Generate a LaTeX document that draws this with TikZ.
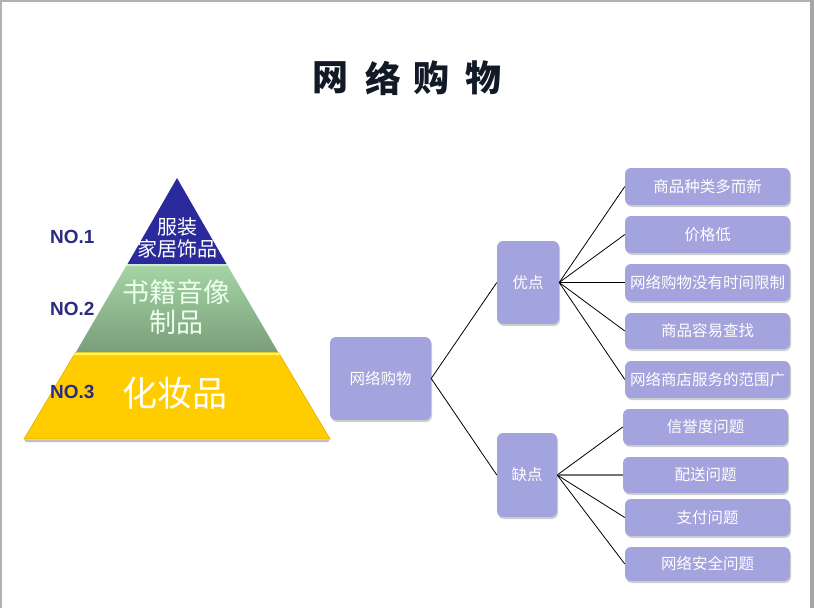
\documentclass[tikz,border=0pt]{standalone}
\usepackage{fontspec}
\setmainfont{Liberation Sans}
\newfontfamily\cjk{Noto Sans CJK SC}
\usetikzlibrary{shadows}
\definecolor{boxfill}{RGB}{163,163,221}
\definecolor{navy}{RGB}{43,43,128}
\definecolor{topblue}{RGB}{42,42,156}
\definecolor{titlecol}{RGB}{18,26,40}
\definecolor{yel}{RGB}{255,204,0}
\definecolor{yeledge}{RGB}{225,175,0}
\begin{document}
\begin{tikzpicture}[x=1pt,y=-1pt,
  box/.style={draw=none,fill=boxfill,rounded corners=6pt,inner sep=0pt,
    text=white,font=\cjk\fontsize{15.5}{17}\selectfont,align=center,
    drop shadow={shadow xshift=1pt,shadow yshift=-2pt,fill=black!30,opacity=0.6}},
  link/.style={draw=black,line width=0.8pt},
  nolabel/.style={text=navy,font=\bfseries\fontsize{19}{21}\selectfont,inner sep=0pt},
  pyrtext/.style={text=white,inner sep=0pt,align=center},
  titlechar/.style={text=titlecol,font=\cjk\bfseries\fontsize{36}{40}\selectfont,inner sep=0pt}]
\useasboundingbox (0,0) rectangle (814,608);
\fill[white] (0,0) rectangle (814,608);
% frame
\fill[black!30] (0,0) rectangle (814,1.5);
\fill[black!30] (0,0) rectangle (1.5,608);
\fill[black!35] (810,0) rectangle (814,608);
% title
\node[titlechar] (t1) at (330,78) {网};
\node[titlechar] (t2) at (383,78) {络};
\node[titlechar] (t3) at (431,78) {购};
\node[titlechar] (t4) at (483,78) {物};
% pyramid
\fill[topblue] (177,178) -- (226.5,264) -- (127.5,264) -- cycle;
\shade[top color={rgb,255:red,165;green,212;blue,165},bottom color={rgb,255:red,122;green,158;blue,122}]
  (126.5,265.5) -- (227.5,265.5) -- (278,352) -- (76,352) -- cycle;
\fill[white!70!green] (126.5,264.5) -- (227.5,264.5) -- (228.3,266) -- (125.7,266) -- cycle;
\fill[yel,draw=yeledge,line width=0.6pt] (75.5,352.5) -- (278.5,352.5) -- (330,439) -- (24,439) -- cycle;
\fill[yellow!60!white] (75.5,352.5) -- (278.5,352.5) -- (280,355) -- (74,355) -- cycle;
\fill[black!25] (24,439.5) -- (330,439.5) -- (328,442) -- (26,442) -- cycle;
\node[pyrtext,font=\cjk\fontsize{20}{22}\selectfont] (p1a) at (177,227) {服装};
\node[pyrtext,font=\cjk\fontsize{20}{22}\selectfont] (p1b) at (177,249) {家居饰品};
\node[pyrtext,text=white!92!green,font=\cjk\fontsize{27}{29}\selectfont] (p2a) at (176,292) {书籍音像};
\node[pyrtext,text=white!92!green,font=\cjk\fontsize{27}{29}\selectfont] (p2b) at (176,322) {制品};
\node[pyrtext,font=\cjk\fontsize{35}{38}\selectfont] (p3) at (175,393) {化妆品};
\node[nolabel,anchor=west] (n1) at (50,237) {NO.1};
\node[nolabel,anchor=west] (n2) at (50,309) {NO.2};
\node[nolabel,anchor=west] (n3) at (50,392) {NO.3};
% tree boxes
\node[box,minimum width=101pt,minimum height=83pt] (root) at (380.5,378.5) {网络购物};
\node[box,minimum width=62pt,minimum height=83pt] (pro) at (528,282.5) {优点};
\node[box,minimum width=60pt,minimum height=84pt] (con) at (527,475) {缺点};
\node[box,minimum width=165pt,minimum height=37pt] (a1) at (707.5,186.5) {商品种类多而新};
\node[box,minimum width=165pt,minimum height=37pt] (a2) at (707.5,234.5) {价格低};
\node[box,minimum width=165pt,minimum height=37pt] (a3) at (707.5,282.5) {网络购物没有时间限制};
\node[box,minimum width=165pt,minimum height=36pt] (a4) at (707.5,331) {商品容易查找};
\node[box,minimum width=165pt,minimum height=37pt] (a5) at (707.5,379.5) {网络商店服务的范围广};
\node[box,minimum width=165pt,minimum height=36pt] (b1) at (705.5,427) {信誉度问题};
\node[box,minimum width=165pt,minimum height=36pt] (b2) at (705.5,475) {配送问题};
\node[box,minimum width=165pt,minimum height=37pt] (b3) at (707.5,517.5) {支付问题};
\node[box,minimum width=165pt,minimum height=34pt] (b4) at (707.5,564) {网络安全问题};
% connectors
\draw[link] (root.east) -- (pro.west);
\draw[link] (root.east) -- (con.west);
\foreach \n in {a1,a2,a3,a4,a5} \draw[link] (pro.east) -- (\n.west);
\draw[link] (con.east) -- (b1.west);
\draw[draw=black!55,line width=2pt] (con.east) -- (b2.west);
\draw[link] (con.east) -- (b3.west);
\draw[link] (con.east) -- (b4.west);
\end{tikzpicture}
\end{document}
